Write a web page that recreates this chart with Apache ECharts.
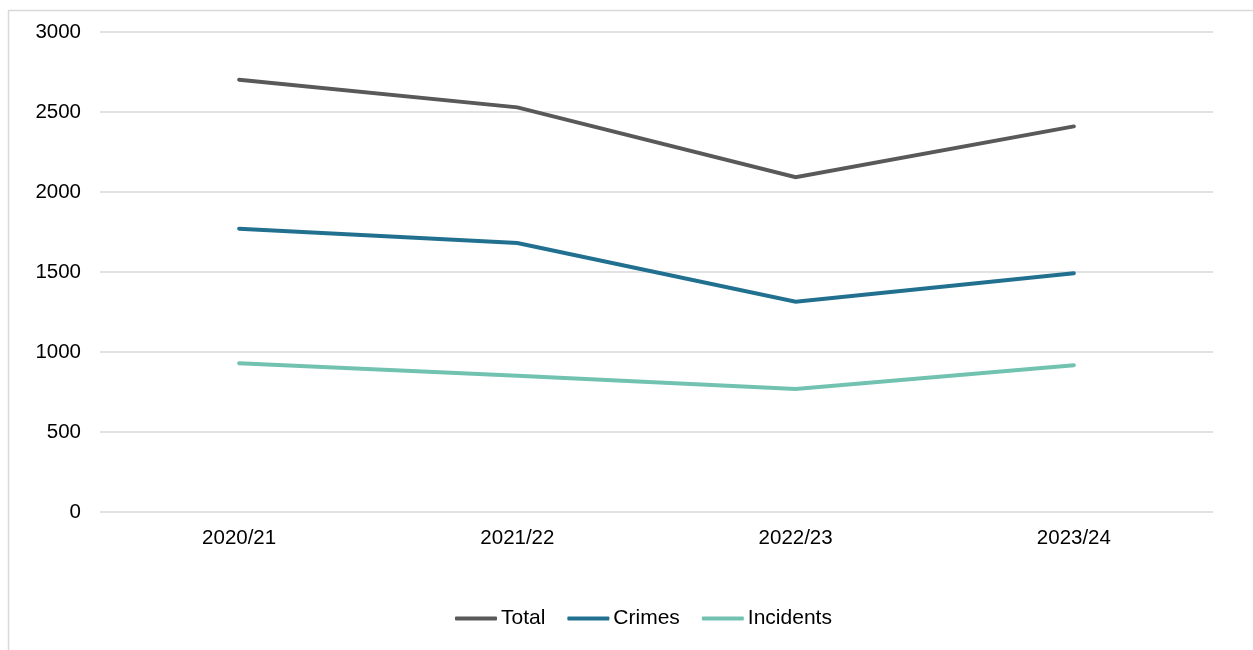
<!DOCTYPE html>
<html>
<head>
<meta charset="utf-8">
<script src="https://cdn.jsdelivr.net/npm/echarts@6/dist/echarts.min.js"></script>
<style>
  html, body { margin: 0; padding: 0; background: #fff; }
  #chart { width: 1253px; height: 650px; }
</style>
</head>
<body>
<div id="chart"></div>
<script>
// Yearly counts by type
const years = ['2020/21', '2021/22', '2022/23', '2023/24'];
const total = [2702, 2529, 2092, 2410];
const crimes = [1771, 1681, 1314, 1492];
const incidents = [929, 852, 769, 917];

const colors = { Total: '#595959', Crimes: '#21708f', Incidents: '#72c2b2' };
const font = 'Arial, "Liberation Sans", sans-serif';

function lineSeries(name, data) {
  return {
    name: name,
    type: 'line',
    data: data,
    symbol: 'none',
    lineStyle: { width: 4, color: colors[name], cap: 'round', join: 'miter' },
    itemStyle: { color: colors[name] },
    silent: true
  };
}

const chart = echarts.init(document.getElementById('chart'));
chart.setOption({
  animation: false,
  grid: { left: 100, right: 40, top: 32, bottom: 138 },
  graphic: [{
    type: 'rect',
    shape: { x: 8.5, y: 10.5, width: 1300, height: 700 },
    style: { fill: 'none', stroke: '#d9d9d9', lineWidth: 1.5 },
    silent: true
  }],
  legend: {
    top: 603,
    left: 450,
    itemWidth: 42,
    itemHeight: 4,
    itemGap: 22,
    icon: 'roundRect',
    textStyle: { fontFamily: font, fontSize: 21, color: '#000', padding: [0, 0, 0, -1] },
    data: ['Total', 'Crimes', 'Incidents']
  },
  xAxis: {
    type: 'category',
    data: years,
    boundaryGap: true,
    axisLine: { show: false },
    axisTick: { show: false },
    axisLabel: { fontFamily: font, fontSize: 20.5, color: '#000', margin: 16 }
  },
  yAxis: {
    type: 'value',
    min: 0,
    max: 3000,
    interval: 500,
    axisLine: { show: false },
    axisTick: { show: false },
    axisLabel: {
      fontFamily: font, fontSize: 20.5, color: '#000', margin: 19,
      formatter: function (v) { return String(v); }
    },
    splitLine: { lineStyle: { color: '#d9d9d9', width: 1.5 } }
  },
  series: [
    lineSeries('Total', total),
    lineSeries('Crimes', crimes),
    lineSeries('Incidents', incidents)
  ]
});
</script>
</body>
</html>
